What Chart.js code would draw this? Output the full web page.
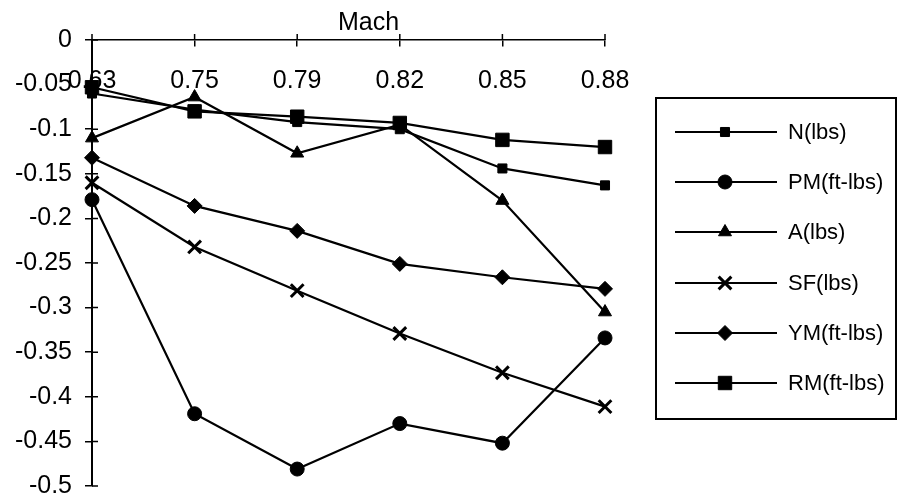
<!DOCTYPE html>
<html>
<head>
<meta charset="utf-8">
<script src="https://cdn.jsdelivr.net/npm/chart.js@4/dist/chart.umd.min.js"></script>
<style>
  body { margin: 0; background: #fff; }
  #wrap { position: relative; width: 901px; height: 504px; background: #fff; }
  #legend { position: absolute; left: 655px; top: 97px; width: 238px; height: 319px; border: 2px solid #000; }
  .lg-line { position: absolute; left: 675px; }
  .lg-text { position: absolute; left: 788px; font: 22px "Liberation Sans", Arial, sans-serif; color: #000; transform: translateY(-50%); white-space: nowrap; }
</style>
</head>
<body>
<div id="wrap">
  <canvas id="chart" width="901" height="504"></canvas>
  <div id="legend"></div>
</div>
<script>
// Mach numbers along the top axis
var mach = ['0.63', '0.75', '0.79', '0.82', '0.85', '0.88'];

// values
var nLbs    = [-0.06, -0.078, -0.092, -0.1, -0.144, -0.163];
var pmFtLbs = [-0.179, -0.419, -0.481, -0.43, -0.452, -0.334];
var aLbs    = [-0.11, -0.064, -0.127, -0.095, -0.18, -0.305];
var sfLbs   = [-0.16, -0.232, -0.281, -0.329, -0.373, -0.411];
var ymFtLbs = [-0.132, -0.186, -0.214, -0.251, -0.266, -0.279];
var rmFtLbs = [-0.053, -0.08, -0.086, -0.093, -0.112, -0.12];

var seriesNames = ['N(lbs)', 'PM(ft-lbs)', 'A(lbs)', 'SF(lbs)', 'YM(ft-lbs)', 'RM(ft-lbs)'];
var seriesData = [nLbs, pmFtLbs, aLbs, sfLbs, ymFtLbs, rmFtLbs];

// marker look per series
var markers = [
  { style: 'rect', radius: 6.4, border: 1 },
  { style: 'circle', radius: 7, border: 1 },
  { style: 'triangle', radius: 7.5, border: 1 },
  { style: 'crossRot', radius: 9, border: 3 },
  { style: 'rectRot', radius: 7.5, border: 1 },
  { style: 'rect', radius: 9.5, border: 1 }
];

var datasets = seriesData.map(function(d, i) {
  return {
    label: seriesNames[i],
    data: d,
    borderColor: '#000',
    backgroundColor: '#000',
    borderWidth: 2.2,
    pointStyle: markers[i].style,
    pointRadius: markers[i].radius,
    pointBorderWidth: markers[i].border,
    pointBackgroundColor: '#000',
    pointBorderColor: '#000',
    tension: 0,
    fill: false
  };
});

// short tick marks on the inside of both axes (chart.js only draws the outside half)
var innerTicks = {
  id: 'innerTicks',
  afterLayout: function(chart) {
    // the axis title sits a bit right of the plot centre in the original
    if (chart.titleBlock) {
      chart.titleBlock.left += 20;
      chart.titleBlock.right += 20;
    }
  },
  afterDraw: function(chart) {
    var ctx = chart.ctx;
    var xs = chart.scales.x, ys = chart.scales.y;
    var y0 = ys.getPixelForValue(0);
    ctx.save();
    ctx.strokeStyle = '#000';
    ctx.lineWidth = 1.5;
    ctx.beginPath();
    ys.ticks.forEach(function(t, i) {
      var py = ys.getPixelForTick(i);
      ctx.moveTo(xs.left, py);
      ctx.lineTo(xs.left + 6, py);
    });
    xs.ticks.forEach(function(t, i) {
      var px = xs.getPixelForTick(i);
      ctx.moveTo(px, y0);
      ctx.lineTo(px, y0 - 6);
    });
    ctx.stroke();
    ctx.restore();
  }
};

var fontFam = '"Liberation Sans", Arial, sans-serif';

var chart = new Chart(document.getElementById('chart').getContext('2d'), {
  type: 'line',
  data: { labels: mach, datasets: datasets },
  options: {
    responsive: false,
    animation: false,
    devicePixelRatio: 1,
    layout: { padding: { left: 0, right: 296, top: 0, bottom: 18 } },
    plugins: {
      legend: { display: false },
      tooltip: { enabled: false },
      title: {
        display: true,
        text: 'Mach',
        color: '#000',
        fullSize: false,
        font: { family: fontFam, size: 25, weight: 'normal' },
        padding: { top: 8, bottom: 2 }
      }
    },
    scales: {
      x: {
        type: 'category',
        position: { y: 0 },
        offset: false,
        border: { display: true, color: '#000', width: 1.5 },
        grid: { drawOnChartArea: false, drawTicks: true, tickLength: 6, color: '#000', lineWidth: 1.5 },
        ticks: { color: '#000', font: { family: fontFam, size: 25 }, padding: 20, maxRotation: 0, autoSkip: false }
      },
      y: {
        position: 'left',
        min: -0.5,
        max: 0,
        afterFit: function(scale) {
          scale.width = 92;
          // the tick padding would otherwise push the plot bottom up
          scale.paddingTop = 10;
          scale.paddingBottom = 10;
        },
        border: { display: true, color: '#000', width: 2 },
        grid: { drawOnChartArea: false, drawTicks: true, tickLength: 7, color: '#000', lineWidth: 1.5 },
        ticks: {
          stepSize: 0.05,
          color: '#000',
          padding: 13,
          font: { family: fontFam, size: 25 },
          callback: function(v) { return String(Number(v.toFixed(2))); }
        }
      }
    }
  },
  plugins: [innerTicks]
});

// legend: a line with the series marker in the middle, then the name
var legendY = [132, 182, 232, 283, 333, 383];
var wrap = document.getElementById('wrap');
chart.data.datasets.forEach(function(ds, i) {
  var c = document.createElement('canvas');
  c.width = 102; c.height = 26;
  c.className = 'lg-line';
  c.style.top = (legendY[i] - 13) + 'px';
  var g = c.getContext('2d');
  g.strokeStyle = '#000';
  g.fillStyle = '#000';
  g.lineWidth = 2;
  g.beginPath();
  g.moveTo(0, 13);
  g.lineTo(102, 13);
  g.stroke();
  g.lineWidth = ds.pointBorderWidth;
  Chart.helpers.drawPoint(g, { pointStyle: ds.pointStyle, radius: ds.pointRadius, rotation: 0, borderWidth: ds.pointBorderWidth }, 50, 13);
  wrap.appendChild(c);
  var t = document.createElement('div');
  t.className = 'lg-text';
  t.style.top = legendY[i] + 'px';
  t.textContent = ds.label;
  wrap.appendChild(t);
});
</script>
</body>
</html>
